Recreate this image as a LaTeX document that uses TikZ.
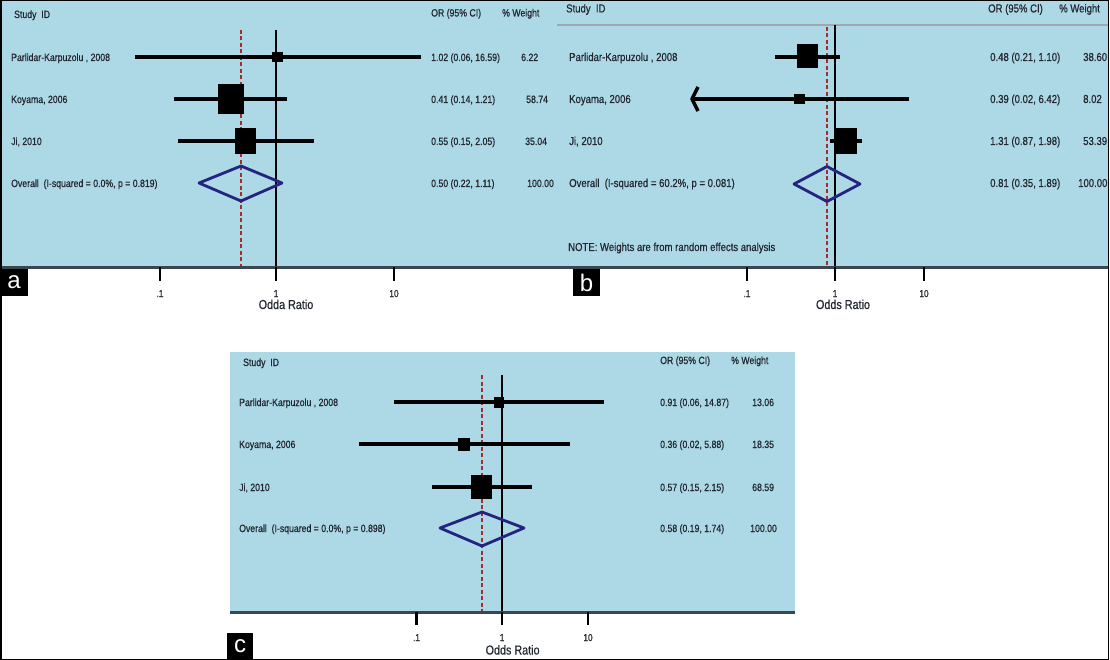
\documentclass[tikz,border=0pt]{standalone}
\usepackage{fontspec}
\setmainfont{Liberation Sans}
\newfontfamily\plotfont[FakeStretch=0.83,FakeBold=0.6]{Liberation Sans}
\usepackage{tikz}
\definecolor{plotbg}{RGB}{173,216,230}
\definecolor{basegray}{RGB}{58,70,80}
\definecolor{poolblue}{RGB}{36,36,128}
\definecolor{nullred}{RGB}{165,45,45}
\definecolor{txtgray}{RGB}{35,40,48}
\definecolor{rulegray}{RGB}{160,168,172}

\begin{document}
\begin{tikzpicture}[x=1pt,y=-1pt,
	txta/.style={anchor=base west, inner sep=0pt, text=txtgray, font=\plotfont\fontsize{10.5}{12}\selectfont},
	txtb/.style={txta, font=\plotfont\fontsize{11.5}{13}\selectfont},
	ticklbl/.style={anchor=base, inner sep=0pt, text=txtgray, font=\plotfont\fontsize{10}{12}\selectfont},
	axlbl/.style={anchor=base, inner sep=0pt, text=txtgray, font=\plotfont\fontsize{13}{15}\selectfont},
	ci/.style={line width=3.4pt},
	nullln/.style={line width=2pt},
	refln/.style={draw=nullred, line width=1.8pt, dash pattern=on 4pt off 2.5pt},
	pooled/.style={draw=poolblue, line width=2.8pt, line join=round},
	tickln/.style={line width=2.5pt},
	baseln/.style={draw=basegray, line width=3pt},
	panel/.style={fill=black},
	panellbl/.style={text=white, inner sep=0pt, font=\fontsize{24}{26}\selectfont}]
		\useasboundingbox (0,0) rectangle (1110,660);
		\fill[plotbg] (0,0) rectangle (1108,266);
		\fill[plotbg] (230,352) rectangle (795,611);
		\draw[rulegray, line width=2pt] (557,25) -- (1108,25);
		%a
		\draw[refln] (241,30) -- (241,267);
		\draw[nullln] (276,30) -- (276,267);
		\draw[ci] (135,57) -- (421,57);
		\draw[ci] (174,99) -- (287,99);
		\draw[ci] (178,141) -- (314,141);
		\fill (271.5,52) rectangle (282.5,62);
		\fill (218,84) rectangle (244,114);
		\fill (235,128) rectangle (256,154);
		\draw[pooled] (199,183) -- (241,166) -- (282,183) -- (241,201) -- cycle;
		\node[txta] (a-id) at (14,18) {Study~~ID};
		\node[txta] (a-or) at (431,16.5) {OR (95\% CI)};
		\node[txta] (a-wt) at (502,16.5) {\% Weight};
		\node[txta] (a-s1) at (11,61) {Parlidar-Karpuzolu , 2008};
		\node[txta] (a-s2) at (11,103) {Koyama, 2006};
		\node[txta] (a-s3) at (11,145) {Ji, 2010};
		\node[txta] (a-all) at (11,187) {Overall~~(I-squared = 0.0\%, p = 0.819)};
		\node[txta] (a-or1) at (431,61) {1.02 (0.06, 16.59)};
		\node[txta] (a-or2) at (431,103) {0.41 (0.14, 1.21)};
		\node[txta] (a-or3) at (431,145) {0.55 (0.15, 2.05)};
		\node[txta] (a-orall) at (431,187) {0.50 (0.22, 1.11)};
		\node[txta] (a-w1) at (521,61) {6.22};
		\node[txta] (a-w2) at (526,103) {58.74};
		\node[txta] (a-w3) at (525,145) {35.04};
		\node[txta] (a-wall) at (527,187) {100.00};
		%b
		\draw[refln] (827,27) -- (827,267);
		\draw[nullln] (835,25) -- (835,267);
		\draw[ci] (775,57) -- (840,57);
		\draw[ci] (692,99) -- (909,99);
		\draw[ci, line join=round] (698,87) -- (692,99) -- (698,111);
		\draw[ci] (830,141) -- (862,141);
		\fill (797,44.5) rectangle (817.5,68.5);
		\fill (794,94) rectangle (805,104.5);
		\fill (834.5,128) rectangle (857,154);
		\draw[pooled] (794,184) -- (827,166.5) -- (860,184) -- (827,201.5) -- cycle;
		\node[txtb] (b-id) at (566,12.4) {Study~~ID};
		\node[txtb] (b-or) at (988,12.4) {OR (95\% CI)};
		\node[txtb] (b-wt) at (1059,12.4) {\% Weight};
		\node[txtb] (b-s1) at (569,61) {Parlidar-Karpuzolu , 2008};
		\node[txtb] (b-s2) at (569,103) {Koyama, 2006};
		\node[txtb] (b-s3) at (569,145) {Ji, 2010};
		\node[txtb] (b-all) at (569,187) {Overall~~(I-squared = 60.2\%, p = 0.081)};
		\node[txtb] (b-or1) at (990,61) {0.48 (0.21, 1.10)};
		\node[txtb] (b-or2) at (990,103) {0.39 (0.02, 6.42)};
		\node[txtb] (b-or3) at (990,145) {1.31 (0.87, 1.98)};
		\node[txtb] (b-orall) at (990,187) {0.81 (0.35, 1.89)};
		\node[txtb] (b-w1) at (1083,61) {38.60};
		\node[txtb] (b-w2) at (1083,103) {8.02};
		\node[txtb] (b-w3) at (1083,145) {53.39};
		\node[txtb] (b-wall) at (1078,187) {100.00};
		\node[txtb] (b-note) at (568,251) {NOTE: Weights are from random effects analysis};
		%c
		\draw[refln] (482,375) -- (482,612);
		\draw[nullln] (502,375) -- (502,612);
		\draw[ci] (394,402) -- (603.5,402);
		\draw[ci] (359,444) -- (569.5,444);
		\draw[ci] (432,487) -- (532,487);
		\fill (494,396.5) rectangle (503.5,407.5);
		\fill (458,438) rectangle (470,451);
		\fill (471,475) rectangle (491.5,498.5);
		\draw[pooled] (440,528) -- (482,512) -- (524,528) -- (482,546) -- cycle;
		\node[txta] (c-id) at (243,366) {Study~~ID};
		\node[txta] (c-or) at (660,364) {OR (95\% CI)};
		\node[txta] (c-wt) at (731,364) {\% Weight};
		\node[txta] (c-s1) at (239,406) {Parlidar-Karpuzolu , 2008};
		\node[txta] (c-s2) at (239,448) {Koyama, 2006};
		\node[txta] (c-s3) at (239,491) {Ji, 2010};
		\node[txta] (c-all) at (239,532) {Overall~~(I-squared = 0.0\%, p = 0.898)};
		\node[txta] (c-or1) at (660,406) {0.91 (0.06, 14.87)};
		\node[txta] (c-or2) at (660,448) {0.36 (0.02, 5.88)};
		\node[txta] (c-or3) at (660,491) {0.57 (0.15, 2.15)};
		\node[txta] (c-orall) at (660,532) {0.58 (0.19, 1.74)};
		\node[txta] (c-w1) at (752,406) {13.06};
		\node[txta] (c-w2) at (752,448) {18.35};
		\node[txta] (c-w3) at (752,491) {68.59};
		\node[txta] (c-wall) at (750,532) {100.00};
		%Aksar
		\draw[baseln] (0,267.5) -- (1108,267.5);
		\draw[baseln] (230,612.5) -- (795,612.5);
		\draw[tickln] (160,267) -- (160,281);
		\draw[tickln] (276,267) -- (276,281);
		\draw[tickln] (394,267) -- (394,281);
		\draw[tickln] (747,267) -- (747,281);
		\draw[tickln] (835,267) -- (835,281);
		\draw[tickln] (924,267) -- (924,281);
		\draw[tickln] (416.5,612) -- (416.5,625);
		\draw[tickln] (502,612) -- (502,625);
		\draw[tickln] (588,612) -- (588,625);
		\node[ticklbl] (a-t1) at (160,297) {.1};
		\node[ticklbl] (a-t2) at (276,297) {1};
		\node[ticklbl] (a-t3) at (394,297) {10};
		\node[ticklbl] (b-t1) at (747,297) {.1};
		\node[ticklbl] (b-t2) at (835,297) {1};
		\node[ticklbl] (b-t3) at (924,297) {10};
		\node[ticklbl] (c-t1) at (416.5,641) {.1};
		\node[ticklbl] (c-t2) at (502,641) {1};
		\node[ticklbl] (c-t3) at (588,641) {10};
		\node[axlbl] (a-ax) at (286,309) {Odda Ratio};
		\node[axlbl] (b-ax) at (843,309) {Odds Ratio};
		\node[axlbl] (c-ax) at (512.6,654.5) {Odds Ratio};
		%Paneler
		\fill[panel] (0,269) rectangle (28,296);
		\fill[panel] (573,269) rectangle (600,296);
		\fill[panel] (227,633) rectangle (253,660);
		\node[panellbl] (lbl-a) at (14,282.5) {a};
		\node[panellbl] (lbl-b) at (586.5,282.5) {b};
		\node[panellbl] (lbl-c) at (240,646.5) {c};
		\draw[line width=1.5pt] (0.75,0.75) rectangle (1108.5,659.25);
	\end{tikzpicture}
\end{document}
